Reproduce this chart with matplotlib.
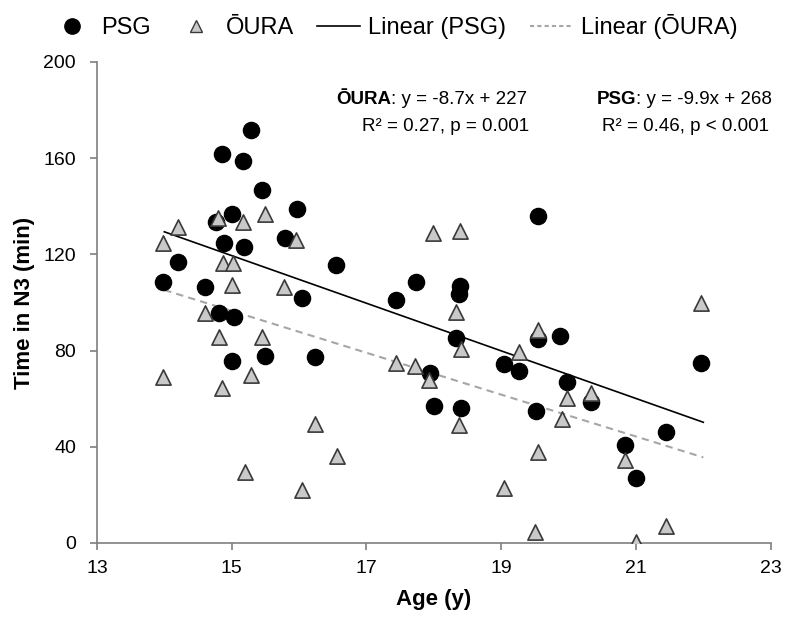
import numpy as np
import matplotlib
matplotlib.use("Agg")
import matplotlib.pyplot as plt
from matplotlib.lines import Line2D

plt.rcParams['font.family'] = ['Liberation Sans', 'DejaVu Sans']

# PSG measurements (age, minutes in N3)
psg_age = [15.29, 14.86, 15.17, 15.45, 15.00, 15.97, 14.77, 14.88, 15.19, 15.79,
           14.20, 13.98, 14.60, 16.55, 16.04, 14.81, 15.03, 15.01, 15.49, 16.24,
           19.54, 17.73, 17.44, 18.39, 18.37, 18.33, 19.55, 19.88, 19.04, 19.27,
           17.94, 18.00, 18.41, 19.51, 21.96, 19.97, 20.34, 21.45, 20.84, 21.00]
psg_n3 = [171.7, 161.7, 158.7, 146.8, 137.0, 139.0, 133.6, 124.9, 123.2, 126.7,
          117.0, 108.7, 106.6, 115.6, 102.0, 95.5, 94.1, 75.8, 77.8, 77.2,
          136.1, 108.7, 101.0, 106.9, 103.5, 85.1, 84.7, 86.0, 74.3, 71.6,
          70.8, 57.1, 56.3, 54.9, 74.7, 67.1, 58.8, 46.3, 40.7, 27.2]

# OURA ring estimates
oura_age = [15.49, 14.20, 14.79, 15.17, 13.98, 15.96, 14.87, 15.02, 15.01, 15.78,
            14.60, 14.81, 15.45, 13.98, 15.29, 14.86, 16.24, 16.56, 15.20, 16.04,
            17.99, 18.39, 18.33, 18.41, 19.55, 19.27, 17.44, 17.72, 17.93, 18.37,
            19.54, 19.04, 19.50, 21.96, 19.97, 19.91, 20.34, 20.84, 21.45, 21.00]
oura_n3 = [137.0, 131.5, 135.0, 133.3, 124.9, 126.0, 116.3, 116.3, 107.3, 106.3,
           95.5, 85.5, 85.5, 68.9, 69.9, 64.3, 49.5, 36.2, 29.6, 22.0,
           128.8, 129.9, 96.2, 80.5, 88.6, 79.5, 75.0, 73.6, 67.8, 49.1,
           38.0, 23.0, 4.7, 99.7, 60.2, 51.4, 62.2, 34.5, 7.1, 0.5]

# linear fits as reported
psg_fit = (-9.9, 268)
oura_fit = (-8.7, 227)
fit_range = [14, 22]

xticks = [13, 15, 17, 19, 21, 23]
yticks = [0, 40, 80, 120, 160, 200]

fig = plt.figure(figsize=(7.88, 6.2), dpi=100)
ax = fig.add_axes([0.123, 0.1242, 0.855, 0.7758])

xs = np.array(fit_range)
ax.plot(xs, psg_fit[0] * xs + psg_fit[1], color='black', lw=1.2, zorder=2)
ax.plot(xs, oura_fit[0] * xs + oura_fit[1], color='#a6a6a6', lw=1.5,
        dashes=(3.5, 2.5), zorder=2)

ax.scatter(psg_age, psg_n3, s=135, marker='o', color='black', zorder=3)
ax.scatter(oura_age, oura_n3, s=120, marker='^', facecolor='#c9c9c9',
           edgecolor='#3a3a3a', linewidth=1.2, zorder=4)

ax.set_xlim(13, 23)
ax.set_ylim(0, 200)
ax.set_xticks(xticks)
ax.set_yticks(yticks)
for side in ['top', 'right']:
    ax.spines[side].set_visible(False)
for side in ['left', 'bottom']:
    ax.spines[side].set_color('#7f7f7f')
    ax.spines[side].set_linewidth(1.2)
ax.tick_params(colors='#7f7f7f', labelcolor='black', labelsize=14,
               length=5, width=1.2, direction='out')
ax.tick_params(axis='x', pad=7)
ax.tick_params(axis='y', pad=10)

ax.set_xlabel('Age (y)', fontsize=16, fontweight='bold', labelpad=9)
ax.set_ylabel('Time in N3 (min)', fontsize=16, fontweight='bold', labelpad=6)

# regression annotations
ax.text(17.37, 184.2, 'ŌURA', fontsize=13.5, fontweight='bold', ha='right', va='center')
ax.text(17.37, 184.2, ': y = -8.7x + 227', fontsize=13.5, ha='left', va='center')
ax.text(18.17, 173.0, 'R² = 0.27, p = 0.001', fontsize=13.5, ha='center', va='center')
ax.text(21.0, 184.2, 'PSG', fontsize=13.5, fontweight='bold', ha='right', va='center')
ax.text(21.0, 184.2, ': y = -9.9x + 268', fontsize=13.5, ha='left', va='center')
ax.text(21.73, 173.0, 'R² = 0.46, p < 0.001', fontsize=13.5, ha='center', va='center')

handles = [
    Line2D([], [], marker='o', ls='none', color='black', markersize=11),
    Line2D([], [], marker='^', ls='none', markerfacecolor='#c9c9c9',
           markeredgecolor='#3a3a3a', markersize=9),
    Line2D([], [], color='black', lw=1.2),
    Line2D([], [], color='#a6a6a6', lw=1.5, dashes=(2, 1.5)),
]
labels = ['PSG', 'ŌURA', 'Linear (PSG)', 'Linear (ŌURA)']
fig.legend(handles, labels, loc='upper center', bbox_to_anchor=(0.5, 1.012),
           ncol=4, frameon=False, fontsize=17, handlelength=1.8,
           handletextpad=0.35, columnspacing=1.0)

fig.savefig('out.png', dpi=100)
